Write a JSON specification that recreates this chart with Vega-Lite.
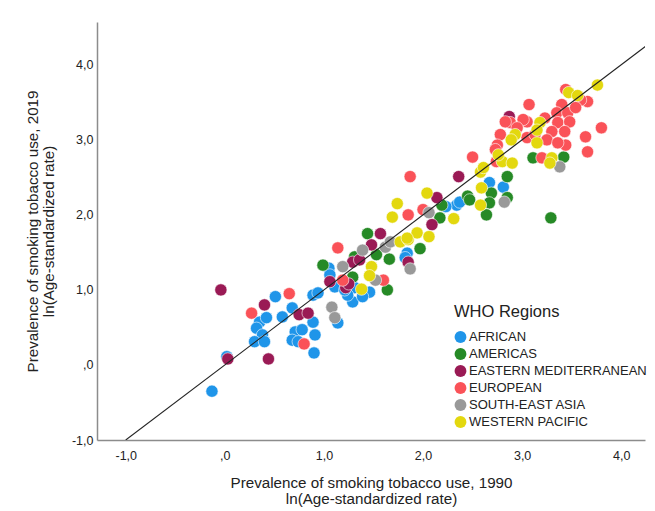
{
  "$schema": "https://vega.github.io/schema/vega-lite/v6.json",
  "autosize": "none",
  "width": 548,
  "height": 418,
  "padding": {"left": 97, "top": 22, "right": 10, "bottom": 71},
  "background": "white",
  "config": {
    "view": {"stroke": null},
    "font": "Liberation Sans",
    "axis": {"grid": false, "ticks": false, "domainColor": "#8c8c8c", "domainWidth": 1.5, "labelColor": "#222", "labelFontSize": 12.5, "titleColor": "#222", "titleFontWeight": "normal", "titleFontSize": 15.2, "titleLineHeight": 16}
  },
  "datasets": {
    "pts": [
      {"x": -0.13, "y": -0.35, "r": "AFRICAN"},
      {"x": 0.02, "y": 0.11, "r": "AFRICAN"},
      {"x": 0.51, "y": 0.91, "r": "AFRICAN"},
      {"x": 0.35, "y": 0.57, "r": "AFRICAN"},
      {"x": 0.42, "y": 0.63, "r": "AFRICAN"},
      {"x": 0.32, "y": 0.49, "r": "AFRICAN"},
      {"x": 0.38, "y": 0.40, "r": "AFRICAN"},
      {"x": 0.30, "y": 0.31, "r": "AFRICAN"},
      {"x": 0.40, "y": 0.31, "r": "AFRICAN"},
      {"x": 0.58, "y": 0.64, "r": "AFRICAN"},
      {"x": 0.68, "y": 0.76, "r": "AFRICAN"},
      {"x": 0.89, "y": 0.93, "r": "AFRICAN"},
      {"x": 0.94, "y": 0.96, "r": "AFRICAN"},
      {"x": 0.89, "y": 0.57, "r": "AFRICAN"},
      {"x": 0.71, "y": 0.44, "r": "AFRICAN"},
      {"x": 0.78, "y": 0.47, "r": "AFRICAN"},
      {"x": 0.68, "y": 0.33, "r": "AFRICAN"},
      {"x": 0.74, "y": 0.31, "r": "AFRICAN"},
      {"x": 0.91, "y": 0.40, "r": "AFRICAN"},
      {"x": 0.90, "y": 0.16, "r": "AFRICAN"},
      {"x": 1.05, "y": 1.29, "r": "AFRICAN"},
      {"x": 1.11, "y": 1.04, "r": "AFRICAN"},
      {"x": 1.31, "y": 1.03, "r": "AFRICAN"},
      {"x": 1.29, "y": 0.84, "r": "AFRICAN"},
      {"x": 1.24, "y": 0.93, "r": "AFRICAN"},
      {"x": 1.46, "y": 0.97, "r": "AFRICAN"},
      {"x": 1.39, "y": 0.91, "r": "AFRICAN"},
      {"x": 1.14, "y": 0.56, "r": "AFRICAN"},
      {"x": 1.84, "y": 1.49, "r": "AFRICAN"},
      {"x": 1.82, "y": 1.43, "r": "AFRICAN"},
      {"x": 2.34, "y": 2.13, "r": "AFRICAN"},
      {"x": 2.37, "y": 2.17, "r": "AFRICAN"},
      {"x": 2.23, "y": 2.11, "r": "AFRICAN"},
      {"x": 2.67, "y": 2.43, "r": "AFRICAN"},
      {"x": 2.81, "y": 2.37, "r": "AFRICAN"},
      {"x": 1.21, "y": 1.00, "r": "AFRICAN"},
      {"x": 1.06, "y": 1.20, "r": "AFRICAN"},
      {"x": 0.99, "y": 1.33, "r": "AMERICAS"},
      {"x": 1.44, "y": 1.75, "r": "AMERICAS"},
      {"x": 1.53, "y": 1.47, "r": "AMERICAS"},
      {"x": 1.66, "y": 1.41, "r": "AMERICAS"},
      {"x": 1.97, "y": 1.55, "r": "AMERICAS"},
      {"x": 1.29, "y": 1.17, "r": "AMERICAS"},
      {"x": 1.64, "y": 1.00, "r": "AMERICAS"},
      {"x": 2.45, "y": 2.25, "r": "AMERICAS"},
      {"x": 2.47, "y": 2.20, "r": "AMERICAS"},
      {"x": 2.85, "y": 2.51, "r": "AMERICAS"},
      {"x": 2.69, "y": 2.29, "r": "AMERICAS"},
      {"x": 2.67, "y": 2.16, "r": "AMERICAS"},
      {"x": 2.85, "y": 2.23, "r": "AMERICAS"},
      {"x": 2.64, "y": 2.00, "r": "AMERICAS"},
      {"x": 2.17, "y": 1.96, "r": "AMERICAS"},
      {"x": 3.11, "y": 2.76, "r": "AMERICAS"},
      {"x": 3.42, "y": 2.77, "r": "AMERICAS"},
      {"x": 3.29, "y": 1.96, "r": "AMERICAS"},
      {"x": 1.31, "y": 1.44, "r": "AMERICAS"},
      {"x": 2.19, "y": 2.13, "r": "AMERICAS"},
      {"x": -0.04, "y": 1.00, "r": "EASTERN MEDITERRANEAN"},
      {"x": 0.40, "y": 0.80, "r": "EASTERN MEDITERRANEAN"},
      {"x": 0.75, "y": 0.67, "r": "EASTERN MEDITERRANEAN"},
      {"x": 0.84, "y": 0.69, "r": "EASTERN MEDITERRANEAN"},
      {"x": 0.03, "y": 0.08, "r": "EASTERN MEDITERRANEAN"},
      {"x": 0.44, "y": 0.08, "r": "EASTERN MEDITERRANEAN"},
      {"x": 1.06, "y": 1.11, "r": "EASTERN MEDITERRANEAN"},
      {"x": 1.22, "y": 1.03, "r": "EASTERN MEDITERRANEAN"},
      {"x": 1.29, "y": 1.37, "r": "EASTERN MEDITERRANEAN"},
      {"x": 1.36, "y": 1.40, "r": "EASTERN MEDITERRANEAN"},
      {"x": 1.48, "y": 1.60, "r": "EASTERN MEDITERRANEAN"},
      {"x": 1.57, "y": 1.75, "r": "EASTERN MEDITERRANEAN"},
      {"x": 1.85, "y": 1.37, "r": "EASTERN MEDITERRANEAN"},
      {"x": 2.36, "y": 2.51, "r": "EASTERN MEDITERRANEAN"},
      {"x": 2.14, "y": 2.23, "r": "EASTERN MEDITERRANEAN"},
      {"x": 2.09, "y": 1.87, "r": "EASTERN MEDITERRANEAN"},
      {"x": 2.87, "y": 3.31, "r": "EASTERN MEDITERRANEAN"},
      {"x": 1.25, "y": 1.08, "r": "EASTERN MEDITERRANEAN"},
      {"x": 0.27, "y": 0.69, "r": "EUROPEAN"},
      {"x": 0.65, "y": 0.95, "r": "EUROPEAN"},
      {"x": 0.80, "y": 0.28, "r": "EUROPEAN"},
      {"x": 1.14, "y": 1.56, "r": "EUROPEAN"},
      {"x": 1.19, "y": 1.13, "r": "EUROPEAN"},
      {"x": 1.60, "y": 1.13, "r": "EUROPEAN"},
      {"x": 1.87, "y": 2.51, "r": "EUROPEAN"},
      {"x": 1.85, "y": 2.00, "r": "EUROPEAN"},
      {"x": 2.00, "y": 2.07, "r": "EUROPEAN"},
      {"x": 2.50, "y": 2.77, "r": "EUROPEAN"},
      {"x": 2.74, "y": 2.71, "r": "EUROPEAN"},
      {"x": 3.44, "y": 3.67, "r": "EUROPEAN"},
      {"x": 3.66, "y": 3.51, "r": "EUROPEAN"},
      {"x": 3.07, "y": 3.47, "r": "EUROPEAN"},
      {"x": 3.40, "y": 3.47, "r": "EUROPEAN"},
      {"x": 2.88, "y": 3.23, "r": "EUROPEAN"},
      {"x": 2.78, "y": 3.07, "r": "EUROPEAN"},
      {"x": 2.75, "y": 2.93, "r": "EUROPEAN"},
      {"x": 3.05, "y": 3.24, "r": "EUROPEAN"},
      {"x": 3.10, "y": 3.04, "r": "EUROPEAN"},
      {"x": 3.64, "y": 3.04, "r": "EUROPEAN"},
      {"x": 3.80, "y": 3.16, "r": "EUROPEAN"},
      {"x": 3.66, "y": 2.84, "r": "EUROPEAN"},
      {"x": 3.44, "y": 2.93, "r": "EUROPEAN"},
      {"x": 3.20, "y": 2.76, "r": "EUROPEAN"},
      {"x": 3.35, "y": 3.36, "r": "EUROPEAN"},
      {"x": 3.46, "y": 3.36, "r": "EUROPEAN"},
      {"x": 3.36, "y": 3.23, "r": "EUROPEAN"},
      {"x": 3.48, "y": 3.24, "r": "EUROPEAN"},
      {"x": 3.30, "y": 3.11, "r": "EUROPEAN"},
      {"x": 3.43, "y": 3.11, "r": "EUROPEAN"},
      {"x": 3.25, "y": 3.00, "r": "EUROPEAN"},
      {"x": 3.36, "y": 2.96, "r": "EUROPEAN"},
      {"x": 3.01, "y": 3.27, "r": "EUROPEAN"},
      {"x": 2.95, "y": 3.16, "r": "EUROPEAN"},
      {"x": 3.05, "y": 3.03, "r": "EUROPEAN"},
      {"x": 3.13, "y": 3.07, "r": "EUROPEAN"},
      {"x": 2.83, "y": 3.24, "r": "EUROPEAN"},
      {"x": 3.59, "y": 3.53, "r": "EUROPEAN"},
      {"x": 3.54, "y": 3.43, "r": "EUROPEAN"},
      {"x": 3.23, "y": 3.29, "r": "EUROPEAN"},
      {"x": 2.73, "y": 2.87, "r": "EUROPEAN"},
      {"x": 1.19, "y": 1.31, "r": "SOUTH-EAST ASIA"},
      {"x": 1.39, "y": 1.53, "r": "SOUTH-EAST ASIA"},
      {"x": 1.62, "y": 1.57, "r": "SOUTH-EAST ASIA"},
      {"x": 1.67, "y": 1.64, "r": "SOUTH-EAST ASIA"},
      {"x": 1.87, "y": 1.28, "r": "SOUTH-EAST ASIA"},
      {"x": 1.52, "y": 1.13, "r": "SOUTH-EAST ASIA"},
      {"x": 1.08, "y": 0.77, "r": "SOUTH-EAST ASIA"},
      {"x": 1.11, "y": 0.63, "r": "SOUTH-EAST ASIA"},
      {"x": 2.06, "y": 2.03, "r": "SOUTH-EAST ASIA"},
      {"x": 2.82, "y": 2.17, "r": "SOUTH-EAST ASIA"},
      {"x": 3.38, "y": 2.64, "r": "SOUTH-EAST ASIA"},
      {"x": 1.69, "y": 1.97, "r": "WESTERN PACIFIC"},
      {"x": 1.77, "y": 1.64, "r": "WESTERN PACIFIC"},
      {"x": 1.85, "y": 1.67, "r": "WESTERN PACIFIC"},
      {"x": 1.94, "y": 1.76, "r": "WESTERN PACIFIC"},
      {"x": 1.48, "y": 1.31, "r": "WESTERN PACIFIC"},
      {"x": 1.46, "y": 1.19, "r": "WESTERN PACIFIC"},
      {"x": 1.38, "y": 1.01, "r": "WESTERN PACIFIC"},
      {"x": 2.58, "y": 2.57, "r": "WESTERN PACIFIC"},
      {"x": 2.61, "y": 2.63, "r": "WESTERN PACIFIC"},
      {"x": 2.80, "y": 2.71, "r": "WESTERN PACIFIC"},
      {"x": 2.90, "y": 2.69, "r": "WESTERN PACIFIC"},
      {"x": 2.04, "y": 2.29, "r": "WESTERN PACIFIC"},
      {"x": 2.59, "y": 2.36, "r": "WESTERN PACIFIC"},
      {"x": 2.58, "y": 2.13, "r": "WESTERN PACIFIC"},
      {"x": 2.31, "y": 1.95, "r": "WESTERN PACIFIC"},
      {"x": 2.06, "y": 1.71, "r": "WESTERN PACIFIC"},
      {"x": 1.84, "y": 1.69, "r": "WESTERN PACIFIC"},
      {"x": 3.76, "y": 3.73, "r": "WESTERN PACIFIC"},
      {"x": 3.47, "y": 3.63, "r": "WESTERN PACIFIC"},
      {"x": 3.56, "y": 3.59, "r": "WESTERN PACIFIC"},
      {"x": 2.93, "y": 3.07, "r": "WESTERN PACIFIC"},
      {"x": 2.89, "y": 3.00, "r": "WESTERN PACIFIC"},
      {"x": 3.18, "y": 3.23, "r": "WESTERN PACIFIC"},
      {"x": 3.15, "y": 3.13, "r": "WESTERN PACIFIC"},
      {"x": 3.15, "y": 2.96, "r": "WESTERN PACIFIC"},
      {"x": 2.76, "y": 2.80, "r": "WESTERN PACIFIC"},
      {"x": 3.30, "y": 2.76, "r": "WESTERN PACIFIC"},
      {"x": 3.28, "y": 2.69, "r": "WESTERN PACIFIC"},
      {"x": 1.74, "y": 2.15, "r": "WESTERN PACIFIC"}
    ],
    "ref": [
      {"x": -1.0, "y": -1.0},
      {"x": 4.3, "y": 4.3}
    ]
  },
  "layer": [
    {
      "data": {"name": "pts"},
      "mark": {"type": "circle", "size": 150, "opacity": 1, "stroke": "white", "strokeWidth": 0.6},
      "encoding": {
        "x": {"field": "x", "type": "quantitative", "scale": {"domain": [-1.29, 4.24], "nice": false, "zero": false},
          "axis": {"values": [-1, 0, 1, 2, 3, 4], "labelExpr": "datum.value == 0 ? ',0' : replace(replace(format(datum.value, '.1f'), '.', ','), '\u2212', '-')", "labelPadding": 9, "title": ["Prevalence of smoking tobacco use, 1990", "ln(Age-standardized rate)"], "titleBaseline": "middle", "titleY": 42}},
        "y": {"field": "y", "type": "quantitative", "scale": {"domain": [-1.0, 4.57], "nice": false, "zero": false},
          "axis": {"values": [-1, 0, 1, 2, 3, 4], "labelExpr": "datum.value == 0 ? ',0' : replace(replace(format(datum.value, '.1f'), '.', ','), '\u2212', '-')", "labelPadding": 4, "title": ["Prevalence of smoking tobacco use, 2019", "ln(Age-standardized rate)"], "titleBaseline": "middle", "titleX": -65, "titleAngle": -90}},
        "color": {"field": "r", "type": "nominal",
          "scale": {"domain": ["AFRICAN", "AMERICAS", "EASTERN MEDITERRANEAN", "EUROPEAN", "SOUTH-EAST ASIA", "WESTERN PACIFIC"],
                    "range": ["#1f95e9", "#268a26", "#9a1a55", "#fa5258", "#999999", "#e3d80f"]},
          "legend": {"title": "WHO Regions", "orient": "none", "legendX": 357, "legendY": 282, "titleFontSize": 16.5, "titleFontWeight": "normal", "titleColor": "#222", "titlePadding": 10, "labelFontSize": 13, "labelColor": "#222", "labelLimit": 300, "symbolType": "circle", "symbolSize": 140, "symbolStrokeWidth": 0, "symbolOpacity": 1, "rowPadding": 3, "labelOffset": 2}}
      }
    },
    {
      "data": {"name": "ref"},
      "mark": {"type": "line", "color": "#222", "strokeWidth": 1.1, "clip": true},
      "encoding": {
        "x": {"field": "x", "type": "quantitative"},
        "y": {"field": "y", "type": "quantitative"}
      }
    }
  ]
}
